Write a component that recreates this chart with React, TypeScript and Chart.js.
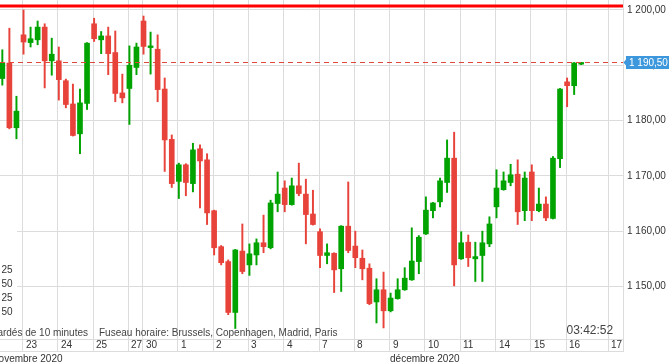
import React, { useEffect, useRef } from 'react';
import { Chart, registerables } from 'chart.js';

Chart.register(...registerables);

// OHLC candles (one per period)
const opens = [
  1187.6, 1190.4, 1178.7, 1195.5, 1194.1, 1194.6, 1196.9, 1190.8, 1190.8, 1187.2,
  1183.0, 1177.6, 1183.1, 1197.5, 1194.6, 1195.3, 1192.3, 1185.0, 1185.8, 1189.6,
  1198.0, 1193.2, 1192.9, 1185.7, 1176.6, 1169.0, 1172.0, 1168.6, 1174.9, 1172.9,
  1163.7, 1157.2, 1154.5, 1145.3, 1156.4, 1153.9, 1155.7, 1157.9, 1157.0, 1165.0,
  1167.8, 1164.8, 1168.2, 1166.7, 1163.1, 1159.9, 1155.6, 1156.0, 1153.2, 1160.9,
  1157.3, 1155.1, 1153.3, 1147.2, 1149.4, 1145.6, 1147.8, 1149.4, 1151.2, 1154.5,
  1159.5, 1163.7, 1165.3, 1168.8, 1173.2, 1155.0, 1158.0, 1155.0, 1155.6, 1157.7,
  1164.4, 1167.5, 1168.8, 1170.3, 1163.7, 1170.7, 1163.7, 1164.9, 1162.3, 1173.1,
  1187.0, 1186.3, 1190.2,
];
const highs = [
  1192.8, 1196.7, 1184.4, 1200.0, 1196.9, 1198.0, 1197.5, 1194.9, 1193.3, 1187.5,
  1186.6, 1185.7, 1194.1, 1198.5, 1196.1, 1196.9, 1196.2, 1188.4, 1193.5, 1194.0,
  1198.9, 1196.0, 1195.5, 1187.7, 1177.4, 1172.3, 1172.2, 1175.9, 1175.6, 1174.0,
  1163.8, 1157.4, 1154.8, 1156.7, 1161.3, 1157.7, 1158.6, 1162.9, 1165.6, 1170.7,
  1169.1, 1169.6, 1172.3, 1169.4, 1167.4, 1160.4, 1157.7, 1156.1, 1161.0, 1168.9,
  1160.0, 1156.6, 1154.1, 1151.4, 1152.6, 1148.8, 1151.4, 1153.4, 1160.6, 1159.2,
  1166.2, 1165.2, 1169.6, 1176.5, 1177.9, 1159.9, 1159.3, 1158.0, 1160.0, 1162.6,
  1171.1, 1170.7, 1172.1, 1172.9, 1170.7, 1172.0, 1167.8, 1166.2, 1173.5, 1185.8,
  1187.7, 1190.5, 1190.5,
];
const lows = [
  1186.4, 1178.5, 1176.7, 1192.0, 1193.3, 1193.7, 1185.9, 1188.2, 1183.7, 1182.3,
  1177.2, 1174.0, 1182.0, 1194.3, 1192.1, 1188.3, 1183.4, 1183.2, 1179.3, 1188.3,
  1192.0, 1188.4, 1183.4, 1170.8, 1167.9, 1165.9, 1166.4, 1167.1, 1164.2, 1161.2,
  1155.7, 1153.9, 1144.9, 1142.4, 1152.3, 1152.0, 1153.9, 1156.1, 1156.8, 1163.5,
  1163.5, 1164.7, 1166.4, 1157.7, 1161.1, 1153.4, 1154.1, 1148.9, 1149.1, 1156.1,
  1153.4, 1151.2, 1146.7, 1143.4, 1142.5, 1145.4, 1147.7, 1149.3, 1151.1, 1152.3,
  1159.4, 1162.4, 1164.4, 1167.0, 1150.1, 1154.9, 1153.6, 1150.9, 1150.9, 1157.2,
  1162.4, 1167.4, 1168.2, 1161.2, 1161.9, 1161.9, 1163.5, 1161.9, 1162.2, 1171.5,
  1182.5, 1184.7, 1190.1,
];
const closes = [
  1190.4, 1178.7, 1181.7, 1194.2, 1194.8, 1196.9, 1190.8, 1192.0, 1187.4, 1182.9,
  1177.3, 1183.2, 1194.0, 1194.8, 1195.3, 1192.1, 1184.9, 1184.1, 1190.0, 1193.3,
  1193.4, 1193.5, 1185.6, 1176.5, 1168.6, 1172.0, 1168.8, 1174.7, 1172.7, 1163.3,
  1157.0, 1154.3, 1145.3, 1156.6, 1152.7, 1155.9, 1157.9, 1157.2, 1165.1, 1166.7,
  1164.8, 1168.2, 1166.8, 1163.0, 1161.2, 1155.6, 1156.1, 1153.0, 1160.9, 1156.5,
  1155.2, 1153.2, 1146.9, 1149.4, 1145.6, 1147.9, 1149.4, 1151.5, 1154.6, 1158.9,
  1163.8, 1165.1, 1169.1, 1173.2, 1153.9, 1157.9, 1155.2, 1155.4, 1157.9, 1161.3,
  1167.8, 1169.1, 1170.2, 1163.5, 1169.6, 1163.7, 1164.9, 1162.4, 1173.2, 1185.7,
  1186.3, 1190.4, 1190.5,
];

// x axis: day labels and the candle index at which each day starts
const dayLabels = ['23', '24', '25', '27', '30', '1', '2', '3', '4', '7', '8', '9', '10', '11', '14', '15', '16', '17'];
const dayStarts = [3, 8, 13, 18, 20, 25, 30, 35, 40, 45, 50, 55, 60, 65, 70, 75, 80, 86];
const monthLabels = ['novembre 2020', 'décembre 2020'];
const monthStarts = [-1.32, 54.92];

// y axis
const yTicks = [1150, 1160, 1170, 1180, 1190, 1200];
const lastPrice = 1190.5;
const resistanceLevel = 1200.7;
const legendFragments = ['25', '50', '25', '50'];

const UP = '#00a300';
const DOWN = '#e8433a';
const GRID = '#dcdcdc';
const TEXT = '#333333';
const FONT = 'Liberation Sans, Arial, sans-serif';

function fmt(v: number): string {
  const parts = v.toFixed(2).split('.');
  const int = parts[0].replace(/\B(?=(\d{3})+(?!\d))/g, ' ');
  return int + ',' + parts[1];
}

const overlayPlugin = {
  id: 'overlay',
  afterDraw(chart: any) {
    const ctx = chart.ctx as CanvasRenderingContext2D;
    const xs = chart.scales.x;
    const ys = chart.scales.y;
    const area = chart.chartArea;
    ctx.save();

    // resistance line
    const ry = ys.getPixelForValue(resistanceLevel);
    ctx.strokeStyle = '#ff0000';
    ctx.lineWidth = 3;
    ctx.beginPath();
    ctx.moveTo(area.left, ry);
    ctx.lineTo(area.right, ry);
    ctx.stroke();

    // last price dashed line
    const py = Math.round(ys.getPixelForValue(lastPrice)) + 0.5;
    ctx.strokeStyle = '#e0483c';
    ctx.lineWidth = 1;
    ctx.setLineDash([5, 4]);
    ctx.beginPath();
    ctx.moveTo(area.left, py);
    ctx.lineTo(area.right, py);
    ctx.stroke();
    ctx.setLineDash([]);

    // last price label
    ctx.fillStyle = '#3d97dc';
    ctx.beginPath();
    ctx.moveTo(area.right + 0.5, py);
    ctx.lineTo(area.right + 3, py - 3);
    ctx.lineTo(area.right + 3, py - 6.5);
    ctx.lineTo(chart.width, py - 6.5);
    ctx.lineTo(chart.width, py + 6.5);
    ctx.lineTo(area.right + 3, py + 6.5);
    ctx.lineTo(area.right + 3, py + 3);
    ctx.closePath();
    ctx.fill();
    ctx.fillStyle = '#ffffff';
    ctx.font = '10px ' + FONT;
    ctx.textAlign = 'left';
    ctx.textBaseline = 'middle';
    ctx.fillText(fmt(lastPrice), area.right + 6, py + 0.5);

    // label-row frame lines
    ctx.strokeStyle = GRID;
    ctx.lineWidth = 1;
    ctx.beginPath();
    ctx.moveTo(0, area.bottom + 12.5);
    ctx.lineTo(area.right + 0.5, area.bottom + 12.5);
    ctx.moveTo(Math.round(area.right) + 0.5, area.bottom);
    ctx.lineTo(Math.round(area.right) + 0.5, area.bottom + 13);
    ctx.stroke();

    // left legend box (clipped)
    ctx.fillStyle = '#ffffff';
    ctx.fillRect(0, 230, 17, 90);
    ctx.fillStyle = TEXT;
    ctx.font = '10px ' + FONT;
    ctx.textAlign = 'right';
    const fragY = [270, 284, 298, 312];
    legendFragments.forEach((t, i) => ctx.fillText(t, 12.5, fragY[i]));

    // footnotes
    ctx.fillStyle = '#444444';
    ctx.textAlign = 'right';
    ctx.fillText('Cours retardés de 10 minutes', 88, 333.5);
    ctx.textAlign = 'left';
    ctx.fillText('Fuseau horaire: Brussels, Copenhagen, Madrid, Paris', 99, 333.5);
    ctx.font = '12px ' + FONT;
    ctx.fillText('03:42:52', 566.5, 330.5);

    // day labels
    ctx.fillStyle = TEXT;
    ctx.font = '10px ' + FONT;
    ctx.textAlign = 'left';
    dayLabels.forEach((t, i) => {
      const x = Math.round(xs.getPixelForValue(dayStarts[i] - 0.14)) + 3;
      ctx.fillText(t, x, area.bottom + 6.5);
    });
    monthLabels.forEach((t, i) => {
      const x = xs.getPixelForValue(monthStarts[i]);
      ctx.fillText(t, x, area.bottom + 20);
    });

    ctx.restore();
  },
};

export default function App() {
  const ref = useRef<HTMLCanvasElement | null>(null);

  useEffect(() => {
    document.body.style.margin = '0';
    const canvas = ref.current;
    if (!canvas) return;
    const colors = opens.map((o, i) => (closes[i] >= o ? UP : DOWN));
    const chart = new Chart(canvas, {
      type: 'bar',
      data: {
        datasets: [
          {
            label: 'wick',
            data: lows.map((l, i) => ({ x: i, y: [l, highs[i]] })) as any,
            backgroundColor: colors,
            borderWidth: 0,
            barThickness: 1.3,
            grouped: false,
            order: 2,
          } as any,
          {
            label: 'body',
            data: opens.map((o, i) => ({ x: i, y: [o, closes[i]] })) as any,
            backgroundColor: colors,
            borderWidth: 0,
            barThickness: 5,
            minBarLength: 1.5,
            grouped: false,
            order: 1,
          } as any,
        ],
      },
      options: {
        animation: false,
        responsive: false,
        maintainAspectRatio: false,
        layout: { autoPadding: false, padding: 0 } as any,
        plugins: { legend: { display: false }, tooltip: { enabled: false } },
        scales: {
          x: {
            type: 'linear',
            bounds: 'data',
            min: -0.33,
            max: 87.92,
            offset: false,
            grid: { offset: false, color: GRID, drawTicks: true, tickLength: 13 },
            border: { display: true, color: GRID },
            ticks: { display: false },
            afterBuildTicks: (s: any) => {
              s.ticks = dayStarts.map((v) => ({ value: v - 0.14 }));
            },
            afterFit: (s: any) => {
              s.height = 25;
              s.paddingLeft = 0;
              s.paddingRight = 0;
            },
          } as any,
          y: {
            type: 'linear',
            position: 'right',
            bounds: 'data',
            min: 1140.5,
            max: 1201.8,
            grid: { color: GRID, drawTicks: false },
            border: { display: true, color: GRID },
            ticks: {
              padding: 4,
              color: TEXT,
              font: { family: FONT, size: 10 },
              callback: (v: any) => fmt(Number(v)),
            },
            afterBuildTicks: (s: any) => {
              s.ticks = yTicks.map((v) => ({ value: v }));
            },
            afterFit: (s: any) => {
              s.width = 46;
              s.paddingTop = 0;
              s.paddingBottom = 0;
            },
          } as any,
        },
      },
      plugins: [overlayPlugin],
    });
    return () => chart.destroy();
  }, []);

  return <canvas ref={ref} width={669} height={364} style={{ display: 'block' }} />;
}
